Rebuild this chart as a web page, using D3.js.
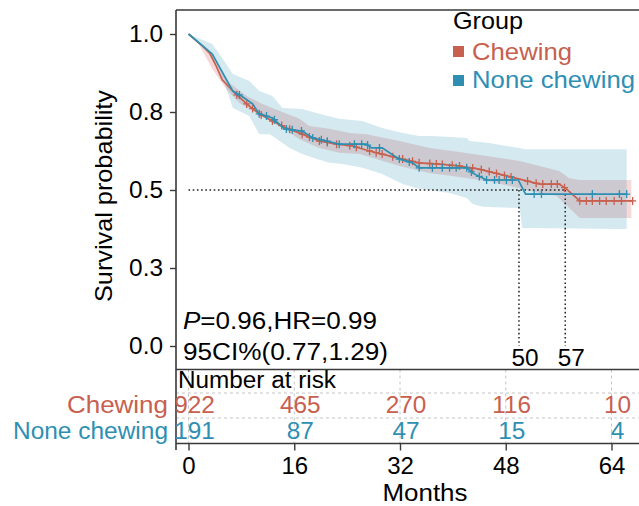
<!DOCTYPE html>
<html>
<head>
<meta charset="utf-8">
<script src="https://cdn.jsdelivr.net/npm/d3@7"></script>
<style>
body { margin: 0; background: #fff; }
svg { display: block; font-family: "Liberation Sans", Arial, sans-serif; }
</style>
</head>
<body>
<svg id="chart"></svg>
<script>
// survival curves (months, probability)
var chewTimes = [0, 2.1, 3.2, 4.2, 5.1, 7.0, 8.8, 10.7, 12.7, 14.8, 17.2, 19.8, 22.4, 24.8, 27.4, 29.3, 32.4, 34.9, 37.9, 41.0, 44.0, 47.0, 50.1, 53.1, 56.1, 57.2, 59.2, 67.2];
var chewSurv  = [1.0, 0.962, 0.939, 0.897, 0.853, 0.811, 0.776, 0.744, 0.721, 0.699, 0.679, 0.657, 0.647, 0.641, 0.625, 0.615, 0.599, 0.587, 0.583, 0.577, 0.567, 0.551, 0.535, 0.519, 0.519, 0.503, 0.465, 0.465];
var noneTimes = [0, 3.6, 6.7, 8.0, 9.7, 10.7, 12.7, 14.5, 17.2, 18.8, 20.9, 22.8, 26.9, 27.7, 29.3, 31.9, 33.9, 34.9, 42.1, 43.0, 45.1, 49.9, 51.0, 66.3];
var noneSurv  = [1.0, 0.936, 0.817, 0.801, 0.776, 0.744, 0.731, 0.696, 0.689, 0.667, 0.657, 0.647, 0.647, 0.635, 0.635, 0.599, 0.587, 0.571, 0.571, 0.554, 0.532, 0.532, 0.487, 0.487];

// 95% confidence bands
var chewUpT   = [0, 1.7, 4.2, 6.2, 8.8, 11.2, 13.8, 16.8, 18.3, 21.3, 24.4, 26.9, 31.9, 36.5, 39.9, 45.1, 50.1, 53.1, 56.1, 57.6, 59.2, 67.0];
var chewUpper = [1.0, 0.971, 0.913, 0.843, 0.801, 0.776, 0.753, 0.728, 0.705, 0.696, 0.683, 0.679, 0.657, 0.635, 0.625, 0.609, 0.593, 0.577, 0.561, 0.538, 0.532, 0.532];
var chewLoT   = [0, 1.7, 3.6, 5.7, 7.7, 10.3, 12.3, 14.2, 16.8, 19.8, 22.8, 25.9, 28.4, 31.9, 36.5, 39.9, 45.1, 50.1, 53.1, 55.7, 57.6, 59.2, 67.0];
var chewLower = [1.0, 0.962, 0.888, 0.824, 0.779, 0.747, 0.721, 0.699, 0.663, 0.635, 0.619, 0.615, 0.599, 0.577, 0.554, 0.545, 0.529, 0.506, 0.490, 0.481, 0.442, 0.410, 0.410];
var noneUpT   = [0, 3.6, 5.1, 6.7, 9.2, 10.7, 12.7, 14.2, 17.2, 19.8, 22.8, 26.3, 29.3, 32.4, 34.9, 36.9, 42.1, 42.5, 45.5, 48.1, 50.1, 50.8, 66.3];
var noneUpper = [1.0, 0.968, 0.923, 0.872, 0.849, 0.817, 0.801, 0.763, 0.760, 0.744, 0.728, 0.721, 0.699, 0.683, 0.673, 0.673, 0.667, 0.657, 0.651, 0.641, 0.635, 0.631, 0.631];
var noneLoT   = [0, 1.7, 4.2, 5.7, 6.7, 9.2, 10.7, 12.3, 13.8, 15.3, 17.2, 19.4, 21.3, 23.3, 26.3, 29.3, 32.4, 34.5, 39.5, 42.1, 43.0, 44.5, 50.1, 50.5, 66.3];
var noneLower = [1.0, 0.968, 0.913, 0.827, 0.763, 0.737, 0.679, 0.679, 0.657, 0.635, 0.615, 0.599, 0.587, 0.583, 0.571, 0.551, 0.519, 0.506, 0.490, 0.474, 0.455, 0.446, 0.442, 0.378, 0.375];

// censored times
var chewCensor = [7.3, 8.8, 9.7, 11.0, 12.7, 14.1, 15.3, 17.2, 18.3, 19.8, 21.0, 22.4, 24.4, 25.4, 27.4, 28.4, 29.3, 30.9, 32.4, 33.9, 34.9, 36.5, 37.5, 38.4, 39.9, 41.0, 43.0, 44.3, 45.5, 46.6, 47.8, 48.8, 51.3, 52.6, 53.6, 54.9, 55.8, 56.9, 59.2, 60.2, 61.1, 62.2, 63.2, 64.4, 65.5, 67.2];
var noneCensor = [7.7, 10.7, 11.8, 13.0, 14.8, 15.7, 17.1, 18.8, 20.1, 21.0, 22.8, 25.1, 26.2, 27.1, 28.9, 31.9, 33.4, 34.9, 36.9, 38.4, 39.5, 40.5, 42.1, 42.8, 44.0, 45.1, 46.3, 47.0, 48.1, 49.0, 52.3, 53.4, 61.1, 65.2, 66.3];

var groups = ["Chewing", "None chewing"];
var medians = [50, 57];
var yTicks = [0, 0.25, 0.5, 0.75, 1];
var yTickLabels = ["0.0", "0.3", "0.5", "0.8", "1.0"];
var riskTimes = [0, 16, 32, 48, 64];
var riskChew = [922, 465, 270, 116, 10];
var riskNone = [191, 87, 47, 15, 4];

var w = 639, h = 506;
var red = "#C8604F", teal = "#2E8FB3";
var frame = "#3a3a3a";

var svg = d3.select("#chart").attr("width", w).attr("height", h);
var x = d3.scaleLinear().domain([0, 64]).range([188.5, 611.5]);
var y = d3.scaleLinear().domain([0, 1]).range([346, 34]);

function survAt(ts, ss, t) {
  var i = d3.bisectRight(ts, t);
  if (i <= 0) return ss[0];
  if (i >= ts.length) return ss[ss.length - 1];
  var f = (t - ts[i - 1]) / (ts[i] - ts[i - 1]);
  return ss[i - 1] + f * (ss[i] - ss[i - 1]);
}
var line = d3.line().x(d => x(d[0])).y(d => y(d[1]));
function band(tu, su, tl, sl) {
  var pts = tu.map((t, i) => [t, su[i]]).concat(tl.map((t, i) => [t, sl[i]]).reverse());
  return line(pts) + "Z";
}

// bands: red first, teal over it gives the grey overlap
svg.append("path").attr("d", band(chewUpT, chewUpper, chewLoT, chewLower))
  .attr("fill", "#CD3A3A").attr("fill-opacity", 0.2);
svg.append("path").attr("d", band(noneUpT, noneUpper, noneLoT, noneLower))
  .attr("fill", teal).attr("fill-opacity", 0.2);

// median guides
svg.append("path")
  .attr("d", "M" + x(0) + "," + y(0.5) + "H" + x(d3.max(medians)))
  .attr("stroke", "#222").attr("stroke-width", 1.5).attr("stroke-dasharray", "1.6,2.6").attr("fill", "none");
svg.selectAll(".med").data(medians).enter().append("path")
  .attr("d", d => "M" + x(d) + "," + y(0.5) + "V" + y(0))
  .attr("stroke", "#222").attr("stroke-width", 1.5).attr("stroke-dasharray", "1.6,2.6").attr("fill", "none");

// curves + censor marks
function drawCurve(ts, ss, cens, col) {
  svg.append("path").attr("d", line(ts.map((t, i) => [t, ss[i]])))
    .attr("fill", "none").attr("stroke", col).attr("stroke-width", 1.7);
  svg.append("g").selectAll("path").data(cens).enter().append("path")
    .attr("transform", t => "translate(" + x(t) + "," + y(survAt(ts, ss, t)) + ")")
    .attr("d", "M-3.5,0H3.5M0,-4V4")
    .attr("stroke", col).attr("stroke-width", 1.3);
}
drawCurve(chewTimes, chewSurv, chewCensor, red);
drawCurve(noneTimes, noneSurv, noneCensor, teal);

// risk table grid
svg.append("g").selectAll("path").data([393, 418]).enter().append("path")
  .attr("d", d => "M176," + d + "H" + w)
  .attr("stroke", "#c4c4c4").attr("stroke-dasharray", "3,3");
svg.append("g").selectAll("path").data(riskTimes).enter().append("path")
  .attr("d", d => "M" + x(d) + ",369.5V443.5")
  .attr("stroke", "#c4c4c4").attr("stroke-dasharray", "3,3");

// frame
svg.append("path")
  .attr("d", "M176,10H" + w + "M176,10V450M176,369.5H" + w + "M176,443.5H" + w)
  .attr("stroke", frame).attr("stroke-width", 1.6).attr("fill", "none");

// y axis
var yAxis = svg.append("g").attr("transform", "translate(176,0)")
  .call(d3.axisLeft(y).tickValues(yTicks).tickFormat((d, i) => yTickLabels[i]).tickSize(6).tickPadding(7));
yAxis.select(".domain").remove();
yAxis.selectAll("line").attr("stroke", frame).attr("stroke-width", 1.4);
yAxis.selectAll("text").attr("class", "st").attr("font-size", 23).attr("fill", "#000")
  .attr("font-family", "Liberation Sans, Arial, sans-serif");

svg.append("text").attr("class", "st").attr("data-w", 212)
  .attr("transform", "translate(112,196) rotate(-90)")
  .attr("text-anchor", "middle").attr("font-size", 24).text("Survival probability");

// x axis
var xAxis = svg.append("g").attr("transform", "translate(0,443.5)")
  .call(d3.axisBottom(x).tickValues(riskTimes).tickSize(7).tickPadding(6));
xAxis.select(".domain").remove();
xAxis.selectAll("line").attr("stroke", frame).attr("stroke-width", 1.4);
xAxis.selectAll("text").attr("font-size", 24).attr("fill", "#000")
  .attr("font-family", "Liberation Sans, Arial, sans-serif");
svg.append("text").attr("class", "st").attr("data-w", 85)
  .attr("x", 425).attr("y", 501).attr("text-anchor", "middle").attr("font-size", 23).text("Months");

// stats text
var p1 = svg.append("text").attr("class", "st").attr("data-w", 194)
  .attr("x", 183).attr("y", 329).attr("font-size", 23);
p1.append("tspan").attr("font-style", "italic").text("P");
p1.append("tspan").text("=0.96,HR=0.99");
svg.append("text").attr("class", "st").attr("data-w", 205)
  .attr("x", 183).attr("y", 360).attr("font-size", 23).text("95CI%(0.77,1.29)");

// median labels
svg.selectAll(".mlab").data(medians).enter().append("text").attr("class", "st")
  .attr("x", d => x(d) + 6).attr("y", 366).attr("text-anchor", "middle")
  .attr("font-size", 23).text(d => d);

// legend
svg.append("text").attr("class", "st").attr("data-w", 70)
  .attr("x", 453).attr("y", 29).attr("font-size", 24).text("Group");
var legW = [100, 163];
groups.forEach(function (g, i) {
  var col = i === 0 ? red : teal;
  svg.append("rect").attr("x", 453).attr("y", 46 + i * 29).attr("width", 11).attr("height", 11).attr("fill", col);
  svg.append("text").attr("class", "st").attr("data-w", legW[i])
    .attr("x", 472).attr("y", 60 + i * 28).attr("font-size", 24).attr("fill", col).text(g);
});

// risk table
svg.append("text").attr("class", "st").attr("data-w", 158)
  .attr("x", 178).attr("y", 388).attr("font-size", 23).text("Number at risk");
var rowY = [413, 439];
var rowW = [101, 155];
[riskChew, riskNone].forEach(function (vals, i) {
  var col = i === 0 ? red : teal;
  svg.append("text").attr("class", "st").attr("data-w", rowW[i])
    .attr("x", 168).attr("y", rowY[i]).attr("text-anchor", "end")
    .attr("font-size", 23).attr("fill", col).text(groups[i]);
  svg.append("g").selectAll("text").data(vals).enter().append("text").attr("class", "st")
    .attr("x", (d, j) => x(riskTimes[j]) + 6).attr("y", rowY[i])
    .attr("text-anchor", "middle").attr("font-size", 23).attr("fill", col).text(d => d);
});

// the original font runs a bit wider than Liberation Sans
svg.selectAll("text.st").each(function () {
  var len = this.getComputedTextLength();
  var target = this.getAttribute("data-w") ? +this.getAttribute("data-w") : len * 1.06;
  this.setAttribute("textLength", target);
  this.setAttribute("lengthAdjust", "spacingAndGlyphs");
});
</script>
</body>
</html>
